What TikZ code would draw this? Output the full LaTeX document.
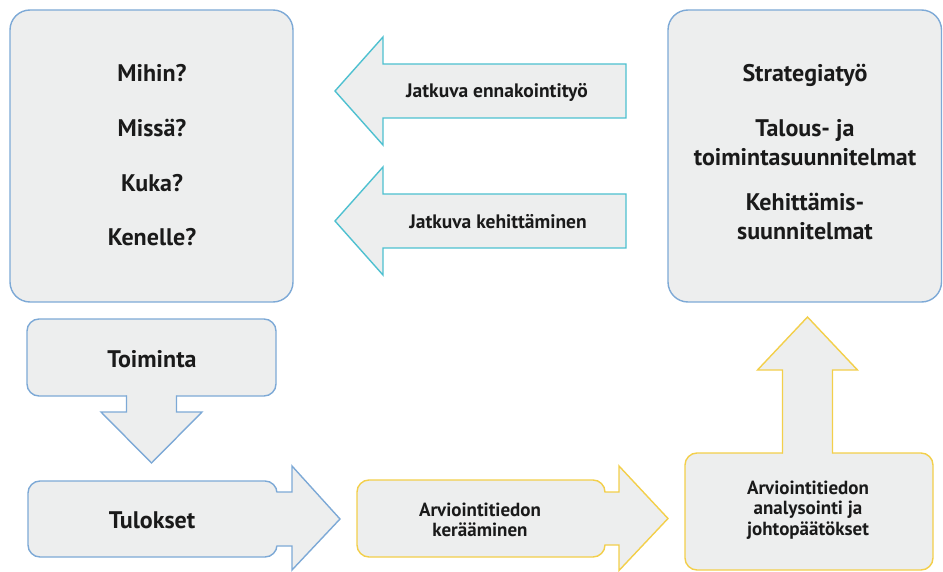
\documentclass[tikz,border=0pt]{standalone}
\usepackage{fontspec}
\setmainfont{PT Sans}
\definecolor{boxfill}{HTML}{EDEEEE}
\definecolor{bblue}{HTML}{7DA9D6}
\definecolor{bcyan}{HTML}{4DC0D0}
\definecolor{byellow}{HTML}{F3CF4A}
\definecolor{txt}{HTML}{1A1A1A}
\tikzset{
  bluebox/.style={draw=bblue, fill=boxfill, line width=1.4pt},
  cyanbox/.style={draw=bcyan, fill=boxfill, line width=1.4pt, line join=miter},
  yellowbox/.style={draw=byellow, fill=boxfill, line width=1.4pt},
  patch/.style={fill=boxfill, draw=none},
  edgeblue/.style={draw=bblue, line width=1.4pt, line join=miter},
  edgeyellow/.style={draw=byellow, line width=1.4pt, line join=miter},
  lbig/.style={text=txt, font=\fontsize{24}{28.5}\selectfont\bfseries, align=center, inner sep=0pt},
  lmid/.style={text=txt, font=\fontsize{19.5}{22}\selectfont\bfseries, align=center, inner sep=0pt},
  lsmall/.style={text=txt, font=\fontsize{19}{20.5}\selectfont\bfseries, align=center, inner sep=0pt},
}
\begin{document}
\begin{tikzpicture}[x=1pt, y=-1pt]
\useasboundingbox (0,0) rectangle (943,572);

% top-left box
\draw[bluebox, rounded corners=20pt] (10,10) rectangle (293,302);
% top-right box
\draw[bluebox, rounded corners=20pt] (668,10) rectangle (941.5,302);

% left arrows
\draw[cyanbox] (626,64) -- (383,64) -- (383,37) -- (335,91) -- (383,145) -- (383,118) -- (626,118) -- cycle;
\draw[cyanbox] (626,194) -- (383,194) -- (383,167) -- (335,221) -- (383,275) -- (383,248) -- (626,248) -- cycle;

% Toiminta box with down arrow
\draw[bluebox, rounded corners=12pt] (27,319) rectangle (276,396);
\fill[patch] (126.5,393) -- (126.5,412) -- (101,412) -- (151.5,463) -- (202,412) -- (176.5,412) -- (176.5,393) -- cycle;
\draw[edgeblue] (126.5,395.3) -- (126.5,412) -- (101,412) -- (151.5,463) -- (202,412) -- (176.5,412) -- (176.5,395.3);

% Tulokset box with right arrow
\draw[bluebox, rounded corners=12pt] (28,481) rectangle (277,557);
\fill[patch] (274,492) -- (292,492) -- (292,466) -- (340,519) -- (292,570) -- (292,546) -- (274,546) -- cycle;
\draw[edgeblue] (276.3,492) -- (292,492) -- (292,466) -- (340,519) -- (292,570) -- (292,546) -- (276.3,546);

% Arviointitiedon keraaminen with right arrow
\draw[yellowbox, rounded corners=12pt] (357,480) rectangle (605,557);
\fill[patch] (602,492) -- (619,492) -- (619,466) -- (668,518.5) -- (619,570.5) -- (619,545) -- (602,545) -- cycle;
\draw[edgeyellow] (604.3,492) -- (619,492) -- (619,466) -- (668,518.5) -- (619,570.5) -- (619,545) -- (604.3,545);

% Arviointitiedon analysointi box with up arrow
\draw[yellowbox, rounded corners=12pt] (685,453) rectangle (933,570);
\fill[patch] (782.5,456) -- (782.5,370) -- (757.5,370) -- (807.5,317) -- (857.5,370) -- (832.5,370) -- (832.5,456) -- cycle;
\draw[edgeyellow] (782.5,453.7) -- (782.5,370) -- (757.5,370) -- (807.5,317) -- (857.5,370) -- (832.5,370) -- (832.5,453.7);

% texts
\node[lbig] (mihin) at (152,73) {Mihin?};
\node[lbig] (missa) at (152,128) {Missä?};
\node[lbig] (kuka) at (152,183) {Kuka?};
\node[lbig] (kenelle) at (152,237) {Kenelle?};

\node[lbig] (strategia) at (805,75) {Strategiatyö};
\node[lbig] (talous) at (805,142.5) {Talous- ja\\toimintasuunnitelmat};
\node[lbig] (kehitt) at (805,216.5) {Kehittämis-\\suunnitelmat};

\node[lmid] (ennak) at (497,92) {Jatkuva ennakointityö};
\node[lmid] (kehjat) at (498,222) {Jatkuva kehittäminen};

\node[lbig] (toiminta) at (152,359) {Toiminta};
\node[lbig] (tulokset) at (152,520) {Tulokset};

\node[lsmall] (keraa) at (480,520) {Arviointitiedon\\kerääminen};
\node[lsmall] (analys) at (808,510) {Arviointitiedon\\analysointi ja\\johtopäätökset};
\end{tikzpicture}
\end{document}
